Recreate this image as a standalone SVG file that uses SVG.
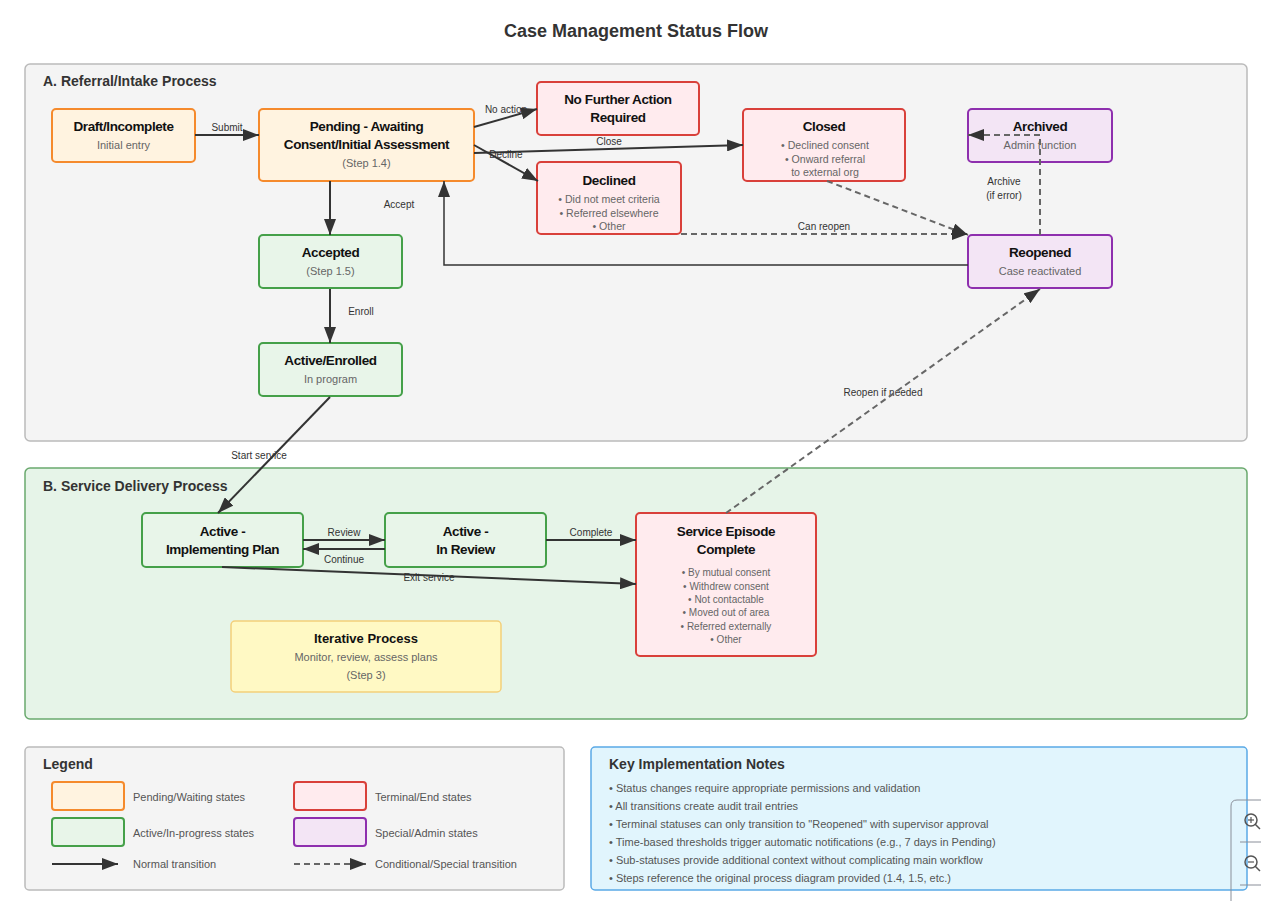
<svg xmlns="http://www.w3.org/2000/svg" width="1261" height="901" viewBox="0 0 1261 901">
<style>
text{font-family:"Liberation Sans",Arial,sans-serif}
.title{font-size:18px;font-weight:bold;fill:#333;text-anchor:middle}
.sec{font-size:14px;font-weight:bold;fill:#333}
.nt{font-size:13.5px;font-weight:bold;fill:#111;text-anchor:middle;letter-spacing:-0.4px}
.ns{font-size:11px;fill:#666;text-anchor:middle}
.ni{font-size:10px;fill:#666;text-anchor:middle}
.nj{font-size:10.6px;fill:#666;text-anchor:middle}
.el{font-size:10px;fill:#333;text-anchor:middle}
.lg{font-size:11px;fill:#555}
.orange{fill:#fff3e0;stroke:#f58a2c;stroke-width:2}
.green{fill:#e8f5e9;stroke:#45a049;stroke-width:2}
.red{fill:#ffebee;stroke:#d9403a;stroke-width:2}
.purple{fill:#f3e5f5;stroke:#8e2fae;stroke-width:2}
.yellow{fill:#fff9c4;stroke:#f3cf7a;stroke-width:1.5}
.solid{fill:none;stroke:#333;stroke-width:2}
.dash{fill:none;stroke:#666;stroke-width:2;stroke-dasharray:6,4}
</style>
<defs>
<marker id="ah" markerUnits="userSpaceOnUse" markerWidth="16" markerHeight="12" refX="16" refY="6" orient="auto">
<path d="M0,0 L16,6 L0,12 z" fill="#333"/>
</marker>
</defs>
<rect x="0" y="0" width="1261" height="901" fill="#fff"/>
<text class="title" x="636" y="37">Case Management Status Flow</text>

<g id="section-a">
<rect x="25" y="64" width="1222" height="377" rx="5" fill="#f4f4f4" stroke="#bbb" stroke-width="1.5"/>
<text class="sec" x="43" y="86">A. Referral/Intake Process</text>
</g>
<g id="section-b">
<rect x="25" y="468" width="1222" height="251" rx="5" fill="#e6f4e8" stroke="#6aa96e" stroke-width="1.5"/>
<text class="sec" x="43" y="491">B. Service Delivery Process</text>
</g>

<g id="edge-labels">
<text class="el" x="227" y="131">Submit</text>
<text class="el" x="506" y="113">No action</text>
<text class="el" x="609" y="145">Close</text>
<text class="el" x="506" y="158">Decline</text>
<text class="el" x="399" y="208">Accept</text>
<text class="el" x="361" y="315">Enroll</text>
<text class="el" x="824" y="230">Can reopen</text>
<text class="el" x="1004" y="185">Archive</text>
<text class="el" x="1004" y="199">(if error)</text>
<text class="el" x="883" y="396">Reopen if needed</text>
<text class="el" x="259" y="459">Start service</text>
<text class="el" x="344" y="536">Review</text>
<text class="el" x="344" y="563">Continue</text>
<text class="el" x="591" y="536">Complete</text>
<text class="el" x="429" y="581">Exit service</text>
</g>

<g id="node-draft">
<rect class="orange" x="52" y="109" width="143" height="53" rx="4"/>
<text class="nt" x="123.5" y="131">Draft/Incomplete</text>
<text class="ns" x="123.5" y="149">Initial entry</text>
</g>
<g id="node-pending">
<rect class="orange" x="259" y="109" width="215" height="72" rx="4"/>
<text class="nt" x="366.5" y="131">Pending - Awaiting</text>
<text class="nt" x="366.5" y="149">Consent/Initial Assessment</text>
<text class="ns" x="366.5" y="167">(Step 1.4)</text>
</g>
<g id="node-nfa">
<rect class="red" x="537" y="82" width="162" height="53" rx="4"/>
<text class="nt" x="618" y="104">No Further Action</text>
<text class="nt" x="618" y="122">Required</text>
</g>
<g id="node-declined">
<rect class="red" x="537" y="162" width="144" height="72" rx="4"/>
<text class="nt" x="609" y="185">Declined</text>
<text class="nj" x="609" y="203">• Did not meet criteria</text>
<text class="nj" x="609" y="217">• Referred elsewhere</text>
<text class="nj" x="609" y="230">• Other</text>
</g>
<g id="node-closed">
<rect class="red" x="743" y="109" width="162" height="72" rx="4"/>
<text class="nt" x="824" y="131">Closed</text>
<text class="nj" x="825" y="149">• Declined consent</text>
<text class="nj" x="825" y="163">• Onward referral</text>
<text class="nj" x="825" y="176">to external org</text>
</g>
<g id="node-archived">
<rect class="purple" x="968" y="109" width="144" height="53" rx="4"/>
<text class="nt" x="1040" y="131">Archived</text>
<text class="ns" x="1040" y="149">Admin function</text>
</g>
<g id="node-reopened">
<rect class="purple" x="968" y="235" width="144" height="53" rx="4"/>
<text class="nt" x="1040" y="257">Reopened</text>
<text class="ns" x="1040" y="275">Case reactivated</text>
</g>
<g id="node-accepted">
<rect class="green" x="259" y="235" width="143" height="53" rx="4"/>
<text class="nt" x="330.5" y="257">Accepted</text>
<text class="ns" x="330.5" y="275">(Step 1.5)</text>
</g>
<g id="node-enrolled">
<rect class="green" x="259" y="343" width="143" height="53" rx="4"/>
<text class="nt" x="330.5" y="365">Active/Enrolled</text>
<text class="ns" x="330.5" y="383">In program</text>
</g>
<g id="node-implementing">
<rect class="green" x="142" y="513" width="161" height="54" rx="4"/>
<text class="nt" x="222.5" y="536">Active -</text>
<text class="nt" x="222.5" y="554">Implementing Plan</text>
</g>
<g id="node-review">
<rect class="green" x="385" y="513" width="161" height="54" rx="4"/>
<text class="nt" x="465.5" y="536">Active -</text>
<text class="nt" x="465.5" y="554">In Review</text>
</g>
<g id="node-complete">
<rect class="red" x="636" y="513" width="180" height="143" rx="4"/>
<text class="nt" x="726" y="536">Service Episode</text>
<text class="nt" x="726" y="554">Complete</text>
<text class="ni" x="726" y="576">• By mutual consent</text>
<text class="ni" x="726" y="590">• Withdrew consent</text>
<text class="ni" x="726" y="603">• Not contactable</text>
<text class="ni" x="726" y="616">• Moved out of area</text>
<text class="ni" x="726" y="630">• Referred externally</text>
<text class="ni" x="726" y="643">• Other</text>
</g>
<g id="node-iterative">
<rect class="yellow" x="231" y="621" width="270" height="71" rx="4"/>
<text class="nt" x="366" y="643" style="font-size:13px;letter-spacing:0">Iterative Process</text>
<text class="ns" x="366" y="661">Monitor, review, assess plans</text>
<text class="ns" x="366" y="679">(Step 3)</text>
</g>

<g id="connectors">
<line class="solid" x1="195" y1="135" x2="259" y2="135" marker-end="url(#ah)"/>
<line class="solid" x1="474" y1="127" x2="537" y2="109" marker-end="url(#ah)"/>
<line class="solid" x1="474" y1="153" x2="743" y2="145" marker-end="url(#ah)"/>
<line class="solid" x1="474" y1="145" x2="538" y2="181" marker-end="url(#ah)"/>
<line class="solid" x1="330" y1="181" x2="330" y2="235" marker-end="url(#ah)"/>
<line class="solid" x1="330" y1="289" x2="330" y2="343" marker-end="url(#ah)"/>
<line class="dash" x1="681" y1="234" x2="968" y2="234" marker-end="url(#ah)"/>
<line class="dash" x1="827" y1="181" x2="968" y2="235" marker-end="url(#ah)"/>
<polyline class="solid" style="stroke-width:1.5" points="968,265 444,265 444,181" marker-end="url(#ah)"/>
<polyline class="dash" points="1040,235 1040,135 968,135" marker-end="url(#ah)"/>
<line class="dash" x1="726" y1="513" x2="1040" y2="289" marker-end="url(#ah)"/>
<line class="solid" x1="330" y1="397" x2="218" y2="513" marker-end="url(#ah)"/>
<line class="solid" x1="303" y1="540" x2="385" y2="540" marker-end="url(#ah)"/>
<line class="solid" x1="385" y1="549" x2="303" y2="549" marker-end="url(#ah)"/>
<line class="solid" x1="546" y1="540" x2="636" y2="540" marker-end="url(#ah)"/>
<line class="solid" x1="222" y1="567" x2="636" y2="584" marker-end="url(#ah)"/>
</g>

<g id="legend">
<rect x="25" y="747" width="539" height="143" rx="4" fill="#f4f4f4" stroke="#bbb" stroke-width="1.5"/>
<text class="sec" x="43" y="769">Legend</text>
<rect class="orange" x="52" y="782" width="72" height="28" rx="3"/>
<text class="lg" x="133" y="801">Pending/Waiting states</text>
<rect class="green" x="52" y="818" width="72" height="28" rx="3"/>
<text class="lg" x="133" y="837">Active/In-progress states</text>
<line class="solid" x1="52" y1="864" x2="118" y2="864" marker-end="url(#ah)"/>
<text class="lg" x="133" y="868">Normal transition</text>
<rect class="red" x="294" y="782" width="72" height="28" rx="3"/>
<text class="lg" x="375" y="801">Terminal/End states</text>
<rect class="purple" x="294" y="818" width="72" height="28" rx="3"/>
<text class="lg" x="375" y="837">Special/Admin states</text>
<line class="dash" x1="294" y1="864" x2="366" y2="864" marker-end="url(#ah)"/>
<text class="lg" x="375" y="868">Conditional/Special transition</text>
</g>

<g id="notes">
<rect x="591" y="747" width="656" height="143" rx="4" fill="#e1f5fd" stroke="#5aa9e6" stroke-width="1.5"/>
<text class="sec" x="609" y="769">Key Implementation Notes</text>
<text class="lg" x="609" y="792">• Status changes require appropriate permissions and validation</text>
<text class="lg" x="609" y="810">• All transitions create audit trail entries</text>
<text class="lg" x="609" y="828">• Terminal statuses can only transition to "Reopened" with supervisor approval</text>
<text class="lg" x="609" y="846">• Time-based thresholds trigger automatic notifications (e.g., 7 days in Pending)</text>
<text class="lg" x="609" y="864">• Sub-statuses provide additional context without complicating main workflow</text>
<text class="lg" x="609" y="882">• Steps reference the original process diagram provided (1.4, 1.5, etc.)</text>
</g>

<g id="zoom-widget" fill="none" stroke="#8a8f99" stroke-width="1">
<path d="M1231,901 L1231,806 Q1231,800 1237,800 L1261,800"/>
<line x1="1240" y1="842" x2="1261" y2="842"/>
<line x1="1240" y1="885" x2="1261" y2="885"/>
<circle cx="1251" cy="820" r="6" stroke="#555" stroke-width="1.5"/>
<line x1="1255" y1="824" x2="1260" y2="829" stroke="#555" stroke-width="1.5"/>
<line x1="1248" y1="820" x2="1254" y2="820" stroke="#555" stroke-width="1.2"/>
<line x1="1251" y1="817" x2="1251" y2="823" stroke="#555" stroke-width="1.2"/>
<circle cx="1251" cy="862" r="6" stroke="#555" stroke-width="1.5"/>
<line x1="1255" y1="866" x2="1260" y2="871" stroke="#555" stroke-width="1.5"/>
<line x1="1248" y1="862" x2="1254" y2="862" stroke="#555" stroke-width="1.2"/>
</g>
</svg>
